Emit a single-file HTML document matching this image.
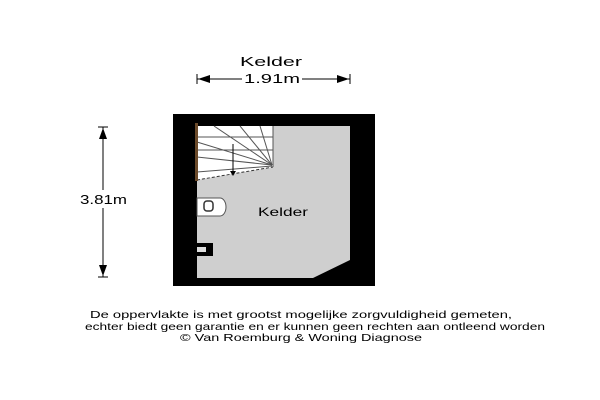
<!DOCTYPE html>
<html><head><style>
body{margin:0;width:600px;height:400px;background:#fff;overflow:hidden}
svg{position:absolute;left:0;top:0}
text{font-family:"Liberation Sans",sans-serif;fill:#000}
</style></head><body>
<svg width="600" height="400" viewBox="0 0 600 400">
<text x="240" y="66" font-size="13" textLength="62" lengthAdjust="spacingAndGlyphs">Kelder</text>
<line x1="197" y1="79" x2="242" y2="79" stroke="#000" stroke-width="1"/>
<line x1="302" y1="79" x2="350" y2="79" stroke="#000" stroke-width="1"/>
<line x1="197" y1="74" x2="197" y2="84" stroke="#000"/>
<line x1="350" y1="74" x2="350" y2="84" stroke="#000"/>
<polygon points="198,79 210,75 210,83" fill="#000"/>
<polygon points="349,79 337,75 337,83" fill="#000"/>
<text x="244" y="83" font-size="13" textLength="56" lengthAdjust="spacingAndGlyphs">1.91m</text>
<line x1="103" y1="127" x2="103" y2="277" stroke="#000"/>
<line x1="98" y1="127" x2="108" y2="127" stroke="#000"/>
<line x1="98" y1="277" x2="108" y2="277" stroke="#000"/>
<polygon points="103,128 99,139 107,139" fill="#000"/>
<polygon points="103,276 99,265 107,265" fill="#000"/>
<rect x="78" y="190" width="52" height="18" fill="#fff"/>
<text x="80" y="204" font-size="13" textLength="47" lengthAdjust="spacingAndGlyphs">3.81m</text>
<rect x="173" y="114" width="202" height="172" fill="#000"/>
<polygon points="197,126 350,126 350,260 313,278 197,278" fill="#cfcfcf"/>
<polygon points="197,126 273,126 273,167 197,180" fill="#fff"/>
<g stroke="#555" stroke-width="1">
<line x1="197" y1="137" x2="273" y2="137"/>
<line x1="197" y1="150" x2="273" y2="150"/>
<line x1="214" y1="126" x2="272" y2="165"/>
<line x1="240" y1="126" x2="272" y2="165"/>
<line x1="260" y1="126" x2="272" y2="165"/>
<line x1="197" y1="142" x2="272" y2="165"/>
<line x1="197" y1="157" x2="272" y2="165"/>
<line x1="197" y1="172" x2="272" y2="166"/>
<line x1="273" y1="126" x2="273" y2="167"/>
</g>
<line x1="197" y1="180" x2="273" y2="167" stroke="#333" stroke-dasharray="3,2"/>
<line x1="233" y1="144" x2="233" y2="174" stroke="#000"/>
<polygon points="233,176 230,171 236,171" fill="#000"/>
<rect x="195" y="123" width="3" height="58" fill="#6b4a2a"/>
<path d="M197,198 H220 A6,9 0 0 1 220,216 H197 Z" fill="#fff" stroke="#555"/>
<rect x="204" y="201" width="9" height="10" rx="3" fill="#fff" stroke="#333" stroke-width="1.5"/>
<rect x="192" y="243" width="21" height="13" fill="#000"/>
<rect x="197" y="247" width="9" height="5" fill="#ddd"/>
<text x="258" y="216" font-size="12" textLength="50" lengthAdjust="spacingAndGlyphs">Kelder</text>
<text x="90" y="318" font-size="10.5" textLength="422" lengthAdjust="spacingAndGlyphs">De oppervlakte is met grootst mogelijke zorgvuldigheid gemeten,</text>
<text x="85" y="330" font-size="10.5" textLength="460" lengthAdjust="spacingAndGlyphs">echter biedt geen garantie en er kunnen geen rechten aan ontleend worden</text>
<text x="180" y="341" font-size="10.5" textLength="242" lengthAdjust="spacingAndGlyphs">© Van Roemburg &amp; Woning Diagnose</text>
</svg>
</body></html>
